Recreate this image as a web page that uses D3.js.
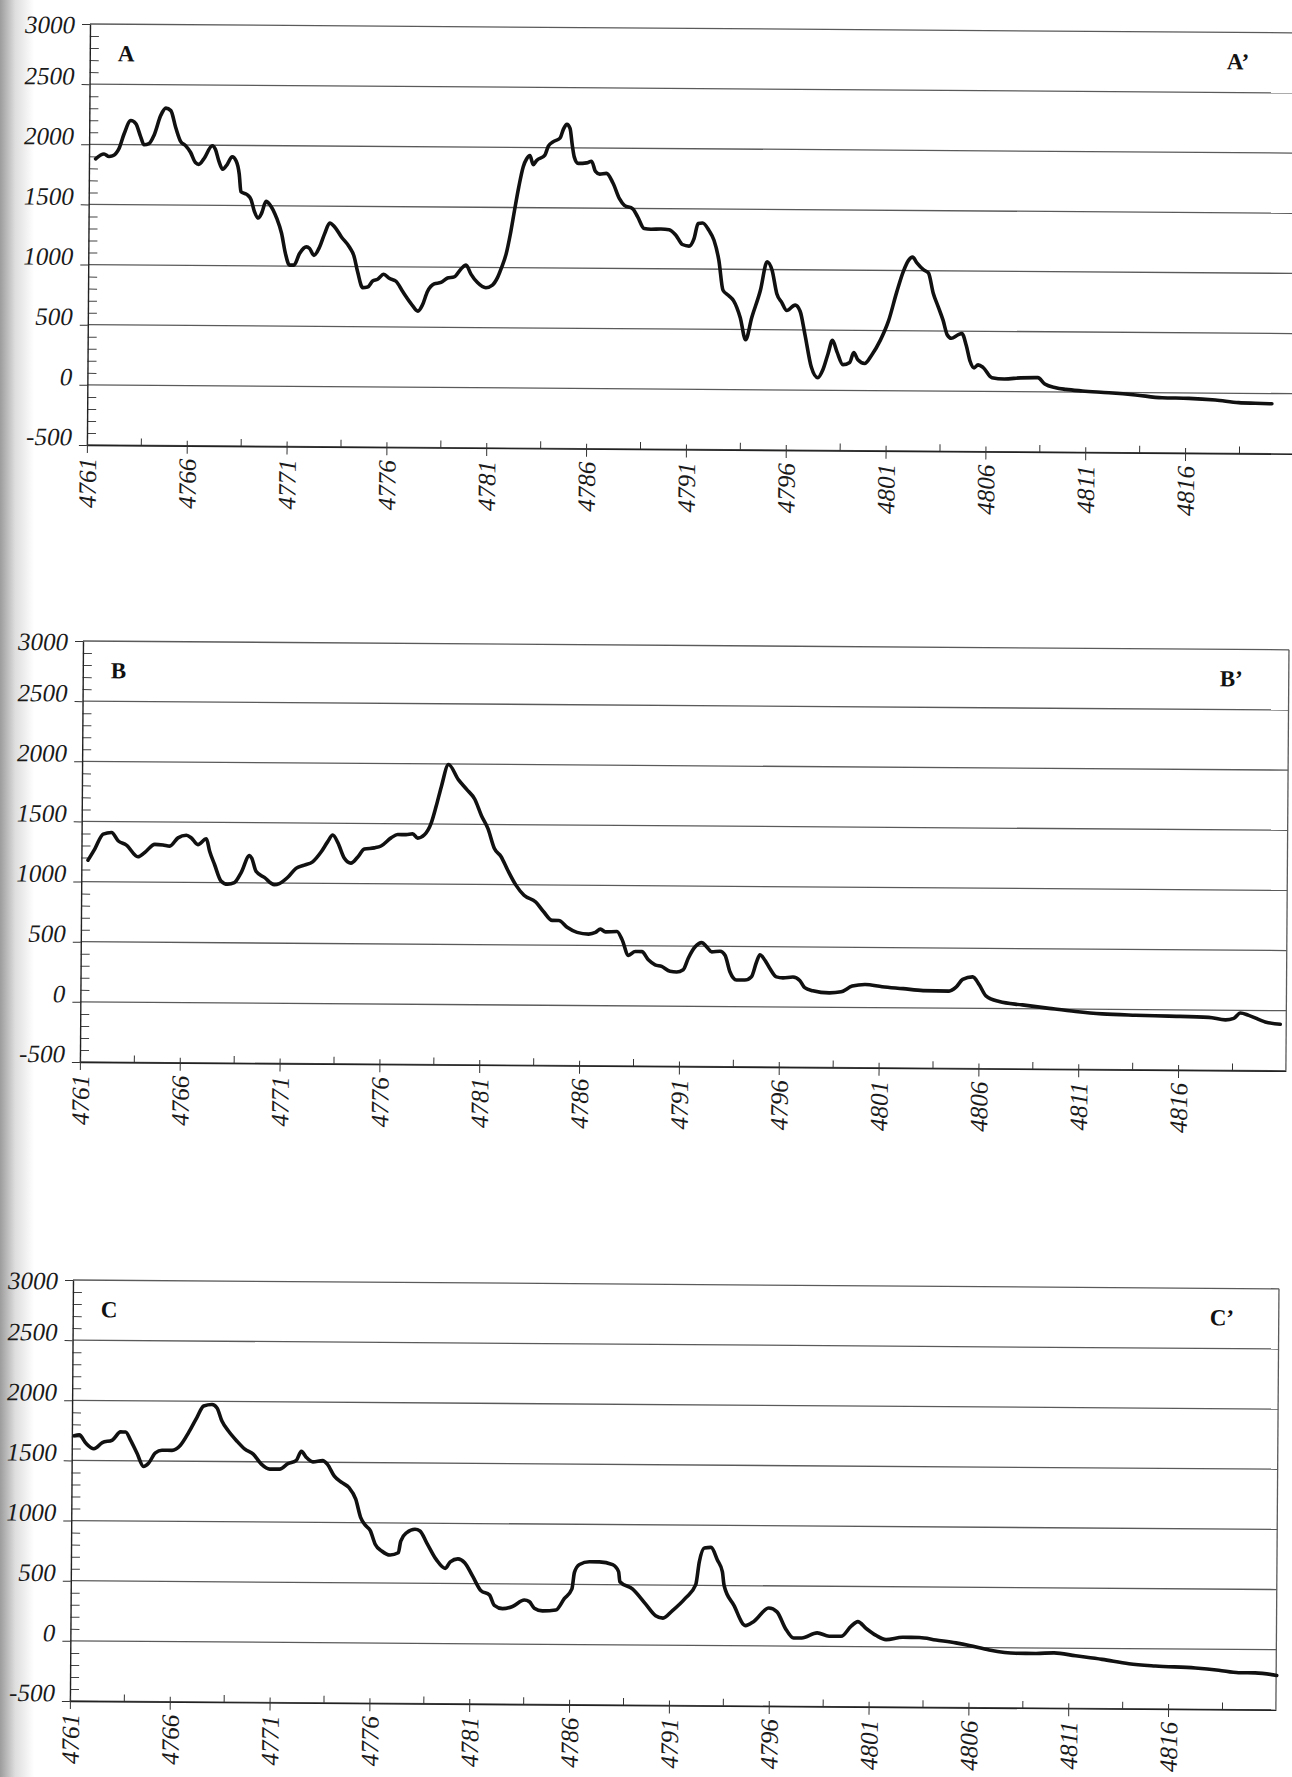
<!DOCTYPE html>
<html>
<head>
<meta charset="utf-8">
<script src="https://cdn.jsdelivr.net/npm/d3@7"></script>
<style>
  body { margin: 0; background: #fff; }
  svg { display: block; }
  .tick-label { font-family: "Liberation Serif", "DejaVu Serif", serif; font-style: italic; font-size: 25px; fill: #1a1a1a; }
  .panel-name { font-family: "Liberation Serif", "DejaVu Serif", serif; font-weight: bold; font-size: 23px; fill: #111; }
</style>
</head>
<body>
<div id="chart"></div>
<script>
// axis values
const yTicks = [-500, 0, 500, 1000, 1500, 2000, 2500, 3000];
const xMajor = [4761, 4766, 4771, 4776, 4781, 4786, 4791, 4796, 4801, 4806, 4811, 4816];
const panelNames = ['A', 'B', 'C'];

// profiles: [km, value]
const profileA = [
  [4761.33,1880],[4761.75,1920],[4762.0,1900],[4762.17,1905],[4762.5,1967],[4762.75,2090],[4763.08,2200],[4763.33,2175],
  [4763.58,2065],[4763.75,2000],[4764.0,2010],[4764.25,2080],[4764.58,2245],[4764.83,2305],[4765.08,2285],[4765.33,2145],
  [4765.58,2030],[4765.83,1995],[4766.08,1940],[4766.33,1855],[4766.5,1840],[4766.75,1885],[4767.17,1995],[4767.33,1965],
  [4767.5,1870],[4767.7,1800],[4767.92,1840],[4768.17,1905],[4768.37,1870],[4768.53,1760],[4768.62,1615],[4768.92,1592],
  [4769.13,1550],[4769.3,1453],[4769.5,1397],[4769.67,1440],[4769.88,1536],[4770.08,1508],[4770.42,1397],[4770.67,1272],
  [4770.87,1105],[4771.08,1008],[4771.3,1008],[4771.58,1105],[4771.92,1160],[4772.08,1147],[4772.3,1090],[4772.58,1160],
  [4772.83,1272],[4773.08,1360],[4773.33,1328],[4773.67,1245],[4774.08,1160],[4774.3,1090],[4774.5,952],[4774.75,825],
  [4775.0,830],[4775.25,880],[4775.5,895],[4775.8,938],[4776.08,904],[4776.42,880],[4776.75,797],[4777.17,698],
  [4777.53,633],[4777.75,684],[4778.0,797],[4778.33,860],[4778.67,873],[4779.0,910],[4779.33,920],[4779.67,986],
  [4779.92,1020],[4780.17,944],[4780.5,874],[4780.92,832],[4781.25,854],[4781.5,916],[4781.7,1000],[4781.92,1110],
  [4782.13,1280],[4782.33,1478],[4782.53,1668],[4782.75,1840],[4782.92,1906],[4783.08,1933],[4783.25,1858],[4783.42,1893],
  [4783.83,1938],[4784.0,2013],[4784.25,2050],[4784.58,2080],[4784.75,2155],[4784.92,2195],[4785.08,2161],[4785.2,2020],
  [4785.3,1925],[4785.5,1871],[4785.92,1876],[4786.17,1890],[4786.37,1805],[4786.58,1783],[4786.92,1790],[4787.25,1710],
  [4787.58,1580],[4787.83,1525],[4788.25,1497],[4788.5,1430],[4788.83,1333],[4789.17,1328],[4789.67,1330],[4790.08,1325],
  [4790.42,1280],[4790.75,1203],[4791.08,1190],[4791.33,1253],[4791.53,1378],[4791.75,1383],[4792.08,1320],[4792.33,1240],
  [4792.58,1075],[4792.8,825],[4793.08,782],[4793.33,740],[4793.67,600],[4793.95,415],[4794.25,600],[4794.67,825],
  [4795.0,1065],[4795.25,994],[4795.5,797],[4795.75,726],[4796.0,661],[4796.42,706],[4796.67,655],[4796.92,462],
  [4797.25,192],[4797.58,104],[4797.83,170],[4798.08,302],[4798.3,415],[4798.53,320],[4798.83,214],[4799.17,233],
  [4799.37,315],[4799.58,255],[4799.92,225],[4800.25,290],[4800.7,420],[4801.1,580],[4801.5,820],[4801.83,995],
  [4802.08,1085],[4802.28,1112],[4802.5,1065],[4802.83,1008],[4803.08,982],[4803.33,814],[4803.58,702],[4803.83,590],
  [4804.05,467],[4804.25,440],[4804.58,468],[4804.78,480],[4805.0,383],[4805.2,250],[4805.4,195],[4805.6,220],
  [4805.85,200],[4806.3,115],[4806.92,105],[4807.75,115],[4808.6,118],[4808.95,65],[4809.5,35],[4810.0,22],
  [4810.83,10],[4812.17,-3],[4813.5,-20],[4814.83,-42],[4816.17,-45],[4817.5,-57],[4818.67,-78],[4819.5,-82],[4820.33,-85]
];

const profileB = [
  [4761.33,1178],[4761.67,1273],[4762.08,1396],[4762.5,1410],[4762.83,1342],[4763.25,1306],[4763.83,1210],[4764.17,1246],
  [4764.67,1314],[4765.08,1309],[4765.42,1300],[4765.83,1369],[4766.25,1391],[4766.5,1369],[4766.83,1314],[4767.25,1363],
  [4767.42,1260],[4767.67,1150],[4768.0,1014],[4768.33,986],[4768.67,1000],[4769.0,1082],[4769.42,1227],[4769.53,1205],
  [4769.75,1096],[4770.17,1046],[4770.67,986],[4770.92,995],[4771.33,1046],[4771.75,1123],[4772.17,1150],[4772.58,1178],
  [4773.0,1260],[4773.33,1347],[4773.58,1402],[4773.83,1342],[4774.17,1210],[4774.5,1170],[4774.83,1219],[4775.17,1287],
  [4775.67,1298],[4776.0,1314],[4776.5,1382],[4776.83,1410],[4777.25,1410],[4777.58,1418],[4777.83,1382],[4778.17,1410],
  [4778.5,1505],[4778.75,1649],[4779.0,1811],[4779.35,1995],[4779.85,1870],[4780.27,1790],[4780.68,1708],[4781.02,1572],
  [4781.35,1465],[4781.68,1300],[4782.02,1232],[4782.35,1122],[4782.77,997],[4783.18,913],[4783.77,858],[4784.18,775],
  [4784.6,706],[4784.93,706],[4785.35,650],[4785.85,608],[4786.43,594],[4786.77,608],[4787.02,636],[4787.27,614],
  [4787.85,617],[4788.1,553],[4788.43,420],[4788.77,452],[4789.1,452],[4789.43,384],[4789.77,343],[4790.1,330],
  [4790.52,290],[4790.85,285],[4791.18,304],[4791.43,400],[4791.77,495],[4792.1,530],[4792.35,495],[4792.6,454],
  [4793.02,460],[4793.27,427],[4793.52,290],[4793.85,222],[4794.27,222],[4794.6,250],[4794.85,373],[4795.02,433],
  [4795.27,387],[4795.52,319],[4795.85,250],[4796.18,242],[4796.68,250],[4797.02,222],[4797.27,162],[4797.68,137],
  [4798.5,120],[4799.1,130],[4799.65,178],[4800.3,192],[4801.15,175],[4802.2,160],[4803.2,145],[4804.5,142],
  [4804.85,175],[4805.18,240],[4805.68,262],[4806.02,195],[4806.35,105],[4807.02,58],[4808.18,32],[4809.52,5],
  [4810.85,-20],[4812.18,-38],[4813.85,-47],[4815.52,-52],[4817.52,-60],[4818.35,-80],[4818.77,-67],[4819.1,-22],
  [4819.52,-41],[4820.35,-95],[4821.1,-113]
];

const profileC = [
  [4761.12,1705],[4761.37,1713],[4761.7,1645],[4762.11,1598],[4762.53,1650],[4763.03,1672],[4763.44,1740],[4763.69,1740],
  [4763.94,1672],[4764.27,1563],[4764.6,1454],[4764.85,1481],[4765.19,1568],[4765.52,1590],[4766.02,1590],[4766.43,1631],
  [4766.85,1740],[4767.26,1866],[4767.59,1960],[4768.01,1973],[4768.26,1945],[4768.51,1836],[4768.84,1754],[4769.26,1672],
  [4769.67,1604],[4770.09,1563],[4770.5,1481],[4770.92,1440],[4771.42,1440],[4771.83,1486],[4772.25,1514],[4772.5,1590],
  [4772.74,1541],[4773.08,1503],[4773.57,1514],[4773.82,1481],[4774.16,1385],[4774.57,1330],[4774.9,1290],[4775.24,1195],
  [4775.49,1045],[4775.74,978],[4775.98,935],[4776.23,822],[4776.56,766],[4776.98,733],[4777.39,752],[4777.51,850],
  [4777.81,921],[4778.22,949],[4778.47,935],[4778.81,837],[4779.3,697],[4779.75,625],[4780.0,680],[4780.38,705],
  [4780.72,673],[4781.13,560],[4781.55,441],[4781.97,408],[4782.22,321],[4782.63,294],[4783.13,313],[4783.72,367],
  [4783.97,354],[4784.22,300],[4784.63,278],[4785.3,286],[4785.72,381],[4786.1,462],[4786.22,600],[4786.47,666],
  [4786.97,689],[4787.47,689],[4788.13,666],[4788.43,609],[4788.5,525],[4789.13,466],[4789.8,340],[4790.3,245],
  [4790.67,225],[4791.13,286],[4791.8,395],[4792.3,505],[4792.47,695],[4792.72,810],[4793.05,816],[4793.38,710],
  [4793.63,613],[4793.72,500],[4794.22,335],[4794.8,168],[4795.22,203],[4795.97,316],[4796.38,284],[4796.8,149],
  [4797.22,68],[4797.63,68],[4798.4,112],[4799.0,85],[4799.6,85],[4800.1,170],[4800.43,208],[4800.85,151],
  [4801.35,94],[4801.85,60],[4802.68,80],[4803.52,80],[4804.35,60],[4805.35,37],[4806.02,17],[4807.02,-20],
  [4808.35,-46],[4809.35,-46],[4810.27,-40],[4811.35,-63],[4812.68,-91],[4814.02,-126],[4815.35,-143],[4817.35,-157],
  [4818.52,-174],[4819.52,-194],[4820.35,-194],[4821.43,-214]
];

const W = 1292, H = 1777;
const plotW = 1206, plotH = 421;
const TILT = 0.42; // the scan is slightly rotated

const panels = [
  { name: panelNames[0], data: profileA, left: 90, top: 24 },
  { name: panelNames[1], data: profileB, left: 83, top: 641 },
  { name: panelNames[2], data: profileC, left: 73, top: 1280 }
];

const x = d3.scaleLinear().domain([4761, 4821.4]).range([0, plotW]);
const y = d3.scaleLinear().domain([-500, 3000]).range([plotH, 0]);
const yMinor = d3.range(-500, 3001, 100).filter(v => v % 500 !== 0);
const xMinor = xMajor.map(v => v + 2.7);

const svg = d3.select('#chart').append('svg').attr('width', W).attr('height', H);
svg.append('rect').attr('width', W).attr('height', H).attr('fill', '#fff');

// grey page shading at the left edge of the scan
const grad = svg.append('defs').append('linearGradient').attr('id', 'edge');
grad.append('stop').attr('offset', '0%').attr('stop-color', '#9c9c9c');
grad.append('stop').attr('offset', '45%').attr('stop-color', '#dedede');
grad.append('stop').attr('offset', '100%').attr('stop-color', '#fff');
svg.append('rect').attr('width', 34).attr('height', H).attr('fill', 'url(#edge)');

const line = d3.line()
  .x(d => x(d[0]))
  .y(d => y(d[1]))
  .curve(d3.curveMonotoneX);

panels.forEach(p => {
  const g = svg.append('g')
    .attr('transform', 'translate(' + p.left + ',' + p.top + ') rotate(' + TILT + ')');

  // gridlines
  g.append('g').selectAll('line').data(yTicks).join('line')
    .attr('x1', 0).attr('x2', plotW)
    .attr('y1', d => y(d)).attr('y2', d => y(d))
    .attr('stroke', '#5a5a5a').attr('stroke-width', 1.3);

  // right frame
  g.append('line')
    .attr('x1', plotW).attr('x2', plotW)
    .attr('y1', y(3000)).attr('y2', y(-500))
    .attr('stroke', '#5a5a5a').attr('stroke-width', 1.3);

  // minor ticks inside the left axis
  g.append('g')
    .call(d3.axisRight(y).tickValues(yMinor).tickSize(9).tickFormat(''))
    .call(s => s.select('.domain').remove())
    .selectAll('line').attr('stroke', '#444');

  const ya = g.append('g')
    .call(d3.axisLeft(y).tickValues(yTicks).tickSizeInner(8).tickSizeOuter(0).tickFormat(d => String(d)));
  ya.select('.domain').attr('stroke', '#222').attr('stroke-width', 1.4);
  ya.selectAll('.tick line').attr('stroke', '#333');
  ya.selectAll('.tick text')
    .attr('class', 'tick-label')
    .attr('x', -15)
    .attr('dy', d => d === 3000 ? '9px' : '0');

  // minor ticks on the bottom axis
  g.append('g').attr('transform', 'translate(0,' + plotH + ')')
    .call(d3.axisTop(x).tickValues(xMinor).tickSize(7).tickFormat(''))
    .call(s => s.select('.domain').remove())
    .selectAll('line').attr('stroke', '#333');

  const xa = g.append('g').attr('transform', 'translate(0,' + plotH + ')')
    .call(d3.axisBottom(x).tickValues(xMajor).tickSizeInner(8).tickSizeOuter(0).tickFormat(d => String(d)));
  xa.select('.domain').attr('stroke', '#222').attr('stroke-width', 1.4);
  xa.selectAll('.tick line').attr('y1', -5).attr('stroke', '#333');
  xa.selectAll('.tick text')
    .attr('class', 'tick-label')
    .attr('transform', 'rotate(-90)')
    .attr('x', -13).attr('y', 0)
    .attr('dy', '0.35em')
    .attr('text-anchor', 'end');

  g.append('path').datum(p.data)
    .attr('d', line)
    .attr('fill', 'none')
    .attr('stroke', '#111')
    .attr('stroke-width', 3.6)
    .attr('stroke-linejoin', 'round')
    .attr('stroke-linecap', 'round');

  g.append('text').attr('class', 'panel-name').attr('x', 28).attr('y', 37).text(p.name);
  g.append('text').attr('class', 'panel-name').attr('x', 1137).attr('y', 37).text(p.name + '\u2019');
});
</script>
</body>
</html>
